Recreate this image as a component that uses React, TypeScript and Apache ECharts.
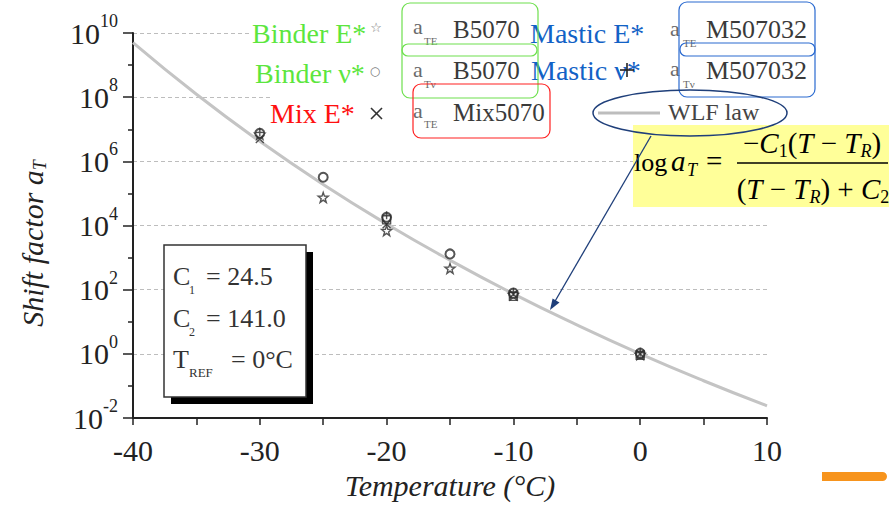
import React, { useEffect, useRef } from 'react';
import * as echarts from 'echarts';

// ---- data ----
const wlfTemperatures = [-40, -35, -30, -25, -20, -15, -10, -5, 0, 5, 10];
const wlfShift = [5.0e9, 1.23e8, 4.2e6, 1.9e5, 1.12e4, 8.3e2, 74, 8.0, 1.0, 0.145, 0.024];

const binderETemps = [-30, -25, -20, -15, -10, 0];
const binderEShift = [7.0e6, 7.5e4, 6.9e3, 4.6e2, 70, 0.95];

const binderNuTemps = [-30, -25, -20, -15, -10, 0];
const binderNuShift = [7.5e6, 3.2e5, 1.8e4, 1.3e3, 78, 1.05];

const mixETemps = [-30, -20, -10, 0];
const mixEShift = [5.0e6, 1.1e4, 72, 1.0];

const masticETemps = [-20, -10, 0];
const masticEShift = [1.5e4, 62, 0.9];

const masticNuTemps = [-30, -20, -10, 0];
const masticNuShift = [8.0e6, 2.1e4, 85, 1.1];

const xTicks = { min: -40, max: 10, step: 10 };
const yExponents = { min: -2, max: 10, step: 2 };

const C1 = '24.5';
const C2 = '141.0';
const TREF = '0°C';

const SERIF = '"Liberation Serif", "Times New Roman", serif';

const STAR =
  'path://M50 0 L61.76 33.82 L97.55 34.55 L69.02 56.18 L79.39 90.45 L50 70 L20.61 90.45 L30.98 56.18 L2.45 34.55 L38.24 33.82 Z';
const CROSS = 'path://M0 0 L10 10 M10 0 L0 10';
const SQUARE = 'path://M0 0 H10 V10 H0 Z';
const PLUS = 'path://M5 0 V10 M0 5 H10';

const pairs = (xs: number[], ys: number[]) => xs.map((x, i) => [x, Math.log10(ys[i])]);

const markerStyle = {
  color: 'rgba(0,0,0,0)',
  borderColor: '#2a2a2a',
  borderWidth: 1.4,
};

function txt(x: number, y: number, text: string, size: number, fill: string, extra: any = {}) {
  return {
    type: 'text',
    z: 110,
    x,
    y,
    style: {
      text,
      fill,
      fontSize: size,
      fontFamily: SERIF,
      align: 'left',
      verticalAlign: 'middle',
      ...extra,
    },
  };
}

function seg(x1: number, y1: number, x2: number, y2: number, stroke: string, lineWidth: number) {
  return { type: 'line', z: 115, shape: { x1, y1, x2, y2 }, style: { stroke, lineWidth } };
}

function buildOption(): any {
  const GREEN = '#5ce63e';
  const BLUE = '#1262c6';
  const RED = '#ff1010';
  const GRAY = '#3a3a3a';
  const LGRAY = '#6a6a6a';

  const subStyle = (size: number, pad: number, italic = false) => ({
    fontSize: size,
    fontFamily: SERIF,
    fontStyle: italic ? 'italic' : 'normal',
    fill: '#000',
    padding: [pad, 0, 0, 0],
  });

  const fracRich = {
    u: { fontSize: 29, fontFamily: SERIF, fill: '#000' },
    i: { fontSize: 29, fontFamily: SERIF, fontStyle: 'italic', fill: '#000' },
    s: subStyle(18, 16, true),
    n: subStyle(18, 16, false),
  };

  const graphic: any[] = [
    // white background of the pasted legend
    { type: 'rect', z: 100, shape: { x: 250, y: 0, width: 639, height: 60 }, style: { fill: '#fff' } },
    { type: 'rect', z: 100, shape: { x: 270, y: 60, width: 619, height: 80 }, style: { fill: '#fff' } },

    // legend row 1
    txt(252, 33, 'Binder E*', 28, GREEN),
    txt(376, 27, '☆', 13, '#777', { align: 'center', fontFamily: 'DejaVu Sans' }),
    txt(413, 26, 'a', 22, LGRAY),
    txt(424, 41, 'TE', 11, LGRAY),
    txt(453, 29, 'B5070', 25, GRAY),
    txt(530, 33, 'Mastic E*', 28, BLUE),
    txt(670, 28, 'a', 22, LGRAY),
    txt(683, 43, 'TE', 11, LGRAY),
    txt(706, 29, 'M507032', 26, GRAY),

    // legend row 2
    txt(255, 73, 'Binder ν*', 28, GREEN),
    txt(375, 71, '○', 12, '#777', { align: 'center', fontFamily: 'DejaVu Sans' }),
    txt(413, 69, 'a', 22, LGRAY),
    txt(424, 84, 'Tν', 11, LGRAY),
    txt(453, 70, 'B5070', 25, GRAY),
    txt(531, 70, 'Mastic ν*', 28, BLUE),
    seg(627, 63, 627, 77, '#222', 1.6),
    seg(620, 70, 634, 70, '#222', 1.6),
    txt(670, 68, 'a', 22, LGRAY),
    txt(683, 84, 'Tν', 11, LGRAY),
    txt(706, 70, 'M507032', 26, GRAY),

    // legend row 3
    txt(270, 113, 'Mix E*', 28, RED),
    seg(371, 108, 382, 119, '#333', 1.6),
    seg(382, 108, 371, 119, '#333', 1.6),
    txt(413, 110, 'a', 22, LGRAY),
    txt(424, 124, 'TE', 11, LGRAY),
    txt(453, 112, 'Mix5070', 25, GRAY),
    seg(598, 113, 660, 113, '#bdbdbd', 3),
    txt(668, 112, 'WLF law', 24, '#444'),

    // highlight boxes
    { type: 'rect', z: 120, shape: { x: 402, y: 3, width: 136, height: 95, r: 8 }, style: { fill: 'none', stroke: '#6ee04e', lineWidth: 1.2 } },
    { type: 'rect', z: 120, shape: { x: 402, y: 44, width: 135, height: 12, r: 6 }, style: { fill: 'none', stroke: '#6ee04e', lineWidth: 1.2 } },
    { type: 'rect', z: 120, shape: { x: 413, y: 84, width: 137, height: 54, r: 8 }, style: { fill: 'none', stroke: '#ff2020', lineWidth: 1.2 } },
    { type: 'rect', z: 120, shape: { x: 679, y: 2, width: 136, height: 95, r: 8 }, style: { fill: 'none', stroke: '#2a6ad0', lineWidth: 1.2 } },
    { type: 'rect', z: 120, shape: { x: 680, y: 43, width: 135, height: 13, r: 6 }, style: { fill: 'none', stroke: '#2a6ad0', lineWidth: 1.2 } },

    // formula box
    { type: 'rect', z: 105, shape: { x: 633, y: 125, width: 256, height: 82 }, style: { fill: '#ffff99' } },
    txt(634, 162, 'log', 26, '#000'),
    txt(671, 161, 'a', 29, '#000', { fontStyle: 'italic' }),
    txt(687, 170, 'T', 18, '#000', { fontStyle: 'italic' }),
    txt(706, 161, '=', 29, '#000'),
    {
      type: 'text',
      z: 110,
      x: 812,
      y: 143,
      style: {
        text: '{u|−}{i|C}{n|1}{u|(}{i|T}{u| − }{i|T}{s|R}{u|)}',
        rich: fracRich,
        align: 'center',
        verticalAlign: 'middle',
      },
    },
    seg(737, 163, 888, 163, '#000', 1.5),
    {
      type: 'text',
      z: 110,
      x: 813,
      y: 189,
      style: {
        text: '{u|(}{i|T}{u| − }{i|T}{s|R}{u|) + }{i|C}{n|2}',
        rich: fracRich,
        align: 'center',
        verticalAlign: 'middle',
      },
    },

    // ellipse + arrow
    {
      type: 'ellipse',
      z: 120,
      shape: { cx: 690, cy: 113, rx: 97, ry: 23 },
      style: { fill: 'none', stroke: '#1f3f7a', lineWidth: 1.5 },
    },
    seg(651, 136, 554, 303, '#1f3f7a', 1.3),
    {
      type: 'polygon',
      z: 120,
      shape: { points: [[550, 310], [559.5, 302.4], [552.6, 298.4]] },
      style: { fill: '#1f3f7a' },
    },

    // constants box
    { type: 'rect', z: 100, shape: { x: 171, y: 252, width: 142, height: 152 }, style: { fill: '#000' } },
    { type: 'rect', z: 101, shape: { x: 164, y: 245, width: 142, height: 152 }, style: { fill: '#fff', stroke: '#333', lineWidth: 1.5 } },
    txt(173, 276, 'C', 26, '#333'),
    txt(189, 290, '1', 12, '#333'),
    txt(206, 276, '= ' + C1, 26, '#333'),
    txt(173, 318, 'C', 26, '#333'),
    txt(189, 332, '2', 12, '#333'),
    txt(206, 318, '= ' + C2, 26, '#333'),
    txt(173, 359, 'T', 26, '#333'),
    txt(189, 372, 'REF', 13, '#333'),
    txt(231, 359, '= ' + TREF, 26, '#333'),

    // orange mark
    { type: 'rect', z: 100, shape: { x: 822, y: 472, width: 65, height: 9, r: [0, 4.5, 4.5, 0] }, style: { fill: '#f7941d' } },
  ];

  return {
    animation: false,
    backgroundColor: '#fff',
    grid: { left: 133, right: 122, top: 33, bottom: 91, containLabel: false },
    xAxis: {
      type: 'value',
      min: xTicks.min,
      max: xTicks.max,
      interval: xTicks.step,
      name: 'Temperature (°C)',
      nameLocation: 'middle',
      nameGap: 52,
      nameTextStyle: { fontFamily: SERIF, fontStyle: 'italic', fontSize: 30, color: '#222' },
      axisLine: { show: true, onZero: false, lineStyle: { color: '#222', width: 2 } },
      axisTick: { show: true, length: 7, lineStyle: { color: '#222', width: 1.5 } },
      minorTick: { show: true, splitNumber: 2, length: 7, lineStyle: { color: '#222', width: 1.5 } },
      splitLine: { show: false },
      axisLabel: { fontFamily: SERIF, fontSize: 30, color: '#222', margin: 17 },
    },
    yAxis: {
      type: 'value',
      min: yExponents.min,
      max: yExponents.max,
      interval: yExponents.step,
      name: '{t|Shift factor a}{s|T}',
      nameLocation: 'middle',
      nameRotate: 90,
      nameGap: 84,
      nameTextStyle: {
        padding: [0, 36, 0, 0],
        rich: {
          t: { fontFamily: SERIF, fontStyle: 'italic', fontSize: 30, color: '#222' },
          s: { fontFamily: SERIF, fontStyle: 'italic', fontSize: 18, color: '#222', padding: [16, 0, 0, 0] },
        },
      },
      axisLine: { show: true, onZero: false, lineStyle: { color: '#222', width: 2 } },
      axisTick: { show: true, length: 10, lineStyle: { color: '#222', width: 1.5 } },
      minorTick: { show: true, splitNumber: 2, length: 5, lineStyle: { color: '#222', width: 1.5 } },
      splitLine: { show: true, lineStyle: { color: '#bdbdbd', width: 1, type: [4, 3] } },
      axisLabel: {
        margin: 15,
        formatter: (v: number) => `{b|10}{e|${v}}`,
        rich: {
          b: { fontFamily: SERIF, fontSize: 30, color: '#222' },
          e: { fontFamily: SERIF, fontSize: 18, color: '#222', padding: [0, 0, 24, 0] },
        },
      },
    },
    series: [
      {
        name: 'WLF law',
        type: 'line',
        data: pairs(wlfTemperatures, wlfShift),
        smooth: true,
        showSymbol: false,
        lineStyle: { color: '#c4c4c4', width: 3 },
        z: 2,
      },
      {
        name: 'Binder E*',
        type: 'scatter',
        data: pairs(binderETemps, binderEShift),
        symbol: STAR,
        symbolSize: 10,
        itemStyle: markerStyle,
        z: 3,
      },
      {
        name: 'Binder ν*',
        type: 'scatter',
        data: pairs(binderNuTemps, binderNuShift),
        symbol: 'emptyCircle',
        symbolSize: 9,
        itemStyle: { color: '#2a2a2a', borderWidth: 1.4 },
        z: 3,
      },
      {
        name: 'Mix E*',
        type: 'scatter',
        data: pairs(mixETemps, mixEShift),
        symbol: CROSS,
        symbolSize: 8,
        itemStyle: markerStyle,
        z: 3,
      },
      {
        name: 'Mastic E*',
        type: 'scatter',
        data: pairs(masticETemps, masticEShift),
        symbol: SQUARE,
        symbolSize: 8,
        itemStyle: markerStyle,
        z: 3,
      },
      {
        name: 'Mastic ν*',
        type: 'scatter',
        data: pairs(masticNuTemps, masticNuShift),
        symbol: PLUS,
        symbolSize: 8,
        itemStyle: markerStyle,
        z: 3,
      },
    ],
    graphic,
  };
}

export default function App() {
  const ref = useRef<HTMLDivElement>(null);
  useEffect(() => {
    if (!ref.current) return;
    const chart = echarts.init(ref.current, null, { renderer: 'svg' });
    chart.setOption(buildOption());
    return () => chart.dispose();
  }, []);
  return (
    <div
      ref={ref}
      style={{ position: 'absolute', left: 0, top: 0, width: 889, height: 509, background: '#fff' }}
    />
  );
}
